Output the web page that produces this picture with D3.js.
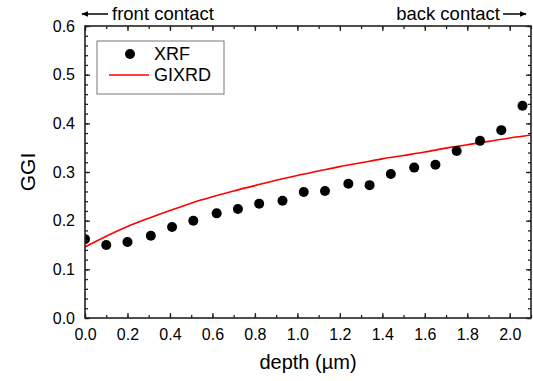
<!DOCTYPE html>
<html><head><meta charset="utf-8">
<script src="https://cdn.jsdelivr.net/npm/d3@7"></script>
<style>body{margin:0;background:#fff}svg{display:block;font-family:"Liberation Sans",Arial,sans-serif}</style>
</head><body><svg id="c" width="533" height="381"></svg>
<script>
const xrfDepth = [0.0,0.10,0.20,0.31,0.41,0.51,0.62,0.72,0.82,0.93,1.03,1.13,1.24,1.34,1.44,1.55,1.65,1.75,1.86,1.96,2.06];
const xrfGGI   = [0.162,0.150,0.156,0.169,0.187,0.200,0.215,0.224,0.235,0.241,0.259,0.261,0.276,0.273,0.296,0.309,0.315,0.343,0.364,0.386,0.436];
const gixrdDepth = [0.0,0.1,0.2,0.3,0.4,0.5,0.6,0.7,0.8,0.9,1.0,1.1,1.2,1.3,1.4,1.5,1.6,1.7,1.8,1.9,2.0,2.1];
const gixrdGGI   = [0.146,0.168,0.188,0.205,0.221,0.236,0.249,0.261,0.272,0.283,0.293,0.302,0.311,0.319,0.327,0.334,0.341,0.349,0.356,0.363,0.370,0.376];
const xTicks = [0,0.2,0.4,0.6,0.8,1.0,1.2,1.4,1.6,1.8,2.0];
const yTicks = [0,0.1,0.2,0.3,0.4,0.5,0.6];
const seriesNames = ["XRF","GIXRD"];

const svg = d3.select("#c");
const L=85,R=531,T=26,B=318;
const x = d3.scaleLinear().domain([0,2.1]).range([L,R]);
const y = d3.scaleLinear().domain([0,0.6]).range([B,T]);

svg.append("defs").append("clipPath").attr("id","clip")
  .append("rect").attr("x",L).attr("y",T).attr("width",R-L).attr("height",B-T);

const g = svg.append("g").attr("clip-path","url(#clip)");
g.append("path").datum(gixrdDepth.map((d,i)=>[d,gixrdGGI[i]]))
  .attr("fill","none").attr("stroke","#ff0000").attr("stroke-width",1.6)
  .attr("d",d3.line().x(d=>x(d[0])).y(d=>y(d[1])).curve(d3.curveMonotoneX));
g.selectAll("circle").data(xrfDepth.map((d,i)=>[d,xrfGGI[i]])).join("circle")
  .attr("cx",d=>x(d[0])).attr("cy",d=>y(d[1])).attr("r",5).attr("fill","#000");

const fmt = d3.format(".1f");
const minorX = d3.range(0,2.11,0.1);
const minorY = d3.range(0,0.601,0.02);
function axisStyle(sel){sel.select(".domain").remove(); sel.selectAll("line").attr("stroke","#222").attr("stroke-width",1.3);}
// bottom
svg.append("g").attr("transform",`translate(0,${B})`)
  .call(d3.axisBottom(x).tickValues(minorX).tickSize(-3).tickFormat(""))
  .call(axisStyle);
svg.append("g").attr("transform",`translate(0,${B})`)
  .call(d3.axisBottom(x).tickValues(xTicks).tickSize(-5).tickPadding(11).tickFormat(fmt))
  .call(axisStyle).selectAll("text").attr("font-size",16).attr("fill","#000").attr("font-family","Liberation Sans, Arial, sans-serif");
// top
svg.append("g").attr("transform",`translate(0,${T})`)
  .call(d3.axisTop(x).tickValues(minorX).tickSize(-3).tickFormat("")).call(axisStyle);
svg.append("g").attr("transform",`translate(0,${T})`)
  .call(d3.axisTop(x).tickValues(xTicks).tickSize(-5).tickFormat("")).call(axisStyle);
// left
svg.append("g").attr("transform",`translate(${L},0)`)
  .call(d3.axisLeft(y).tickValues(minorY).tickSize(-3).tickFormat(""))
  .call(axisStyle);
svg.append("g").attr("transform",`translate(${L},0)`)
  .call(d3.axisLeft(y).tickValues(yTicks).tickSize(-5).tickPadding(10).tickFormat(fmt))
  .call(axisStyle).selectAll("text").attr("font-size",16).attr("fill","#000").attr("font-family","Liberation Sans, Arial, sans-serif");
// right
svg.append("g").attr("transform",`translate(${R},0)`)
  .call(d3.axisRight(y).tickValues(minorY).tickSize(-3).tickFormat("")).call(axisStyle);
svg.append("g").attr("transform",`translate(${R},0)`)
  .call(d3.axisRight(y).tickValues(yTicks).tickSize(-5).tickFormat("")).call(axisStyle);

svg.append("rect").attr("x",L).attr("y",T).attr("width",R-L).attr("height",B-T)
  .attr("fill","none").attr("stroke","#222").attr("stroke-width",1.6);

// titles
svg.append("text").attr("x",(L+R)/2).attr("y",369).attr("text-anchor","middle")
  .attr("font-size",20).text("depth (µm)");
svg.append("text").attr("transform",`translate(35,${(T+B)/2}) rotate(-90)`).attr("text-anchor","middle")
  .attr("font-size",21).text("GGI");

// top annotations
svg.append("text").attr("x",112).attr("y",20).attr("font-size",18.5).text("front contact");
svg.append("text").attr("x",500).attr("y",20).attr("text-anchor","end").attr("font-size",18.5).text("back contact");
const mk = svg.append("defs").append("marker").attr("id","ah").attr("viewBox","0 0 10 10")
  .attr("refX",9).attr("refY",5).attr("markerWidth",7).attr("markerHeight",7).attr("orient","auto-start-reverse")
  .attr("markerUnits","userSpaceOnUse");
mk.append("path").attr("d","M0,1 L10,5 L0,9 Z").attr("fill","#000");
svg.append("line").attr("x1",108).attr("y1",14).attr("x2",82).attr("y2",14)
  .attr("stroke","#000").attr("stroke-width",1.5).attr("marker-end","url(#ah)");
svg.append("line").attr("x1",503).attr("y1",14).attr("x2",526).attr("y2",14)
  .attr("stroke","#000").attr("stroke-width",1.5).attr("marker-end","url(#ah)");

// legend
svg.append("rect").attr("x",97).attr("y",41).attr("width",127).attr("height",53)
  .attr("fill","#fff").attr("stroke","#777").attr("stroke-width",1);
svg.append("circle").attr("cx",130).attr("cy",54).attr("r",5).attr("fill","#000");
svg.append("line").attr("x1",109).attr("x2",149).attr("y1",75).attr("y2",75).attr("stroke","#ff0000").attr("stroke-width",1.6);
svg.append("text").attr("x",154).attr("y",60).attr("font-size",18).text(seriesNames[0]);
svg.append("text").attr("x",154).attr("y",81).attr("font-size",18).text(seriesNames[1]);
</script></body></html>
